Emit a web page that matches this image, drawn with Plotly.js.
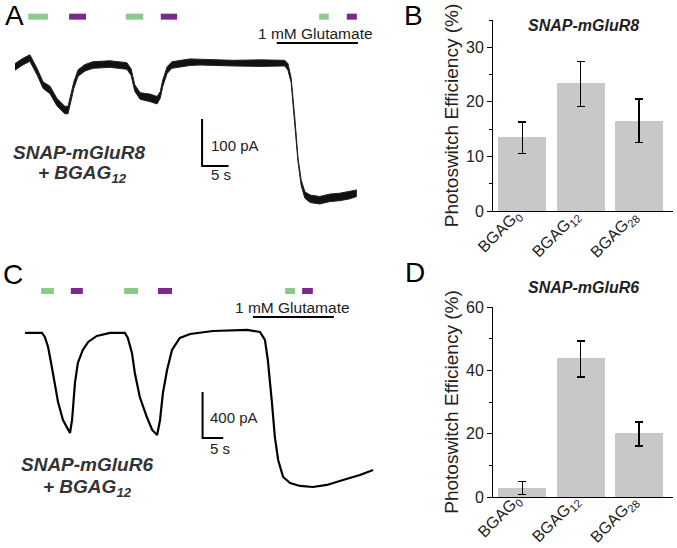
<!DOCTYPE html>
<html>
<head>
<meta charset="utf-8">
<script src="https://cdn.plot.ly/plotly-3.0.1.min.js"></script>
<style>
  html, body { margin: 0; padding: 0; background: #fff; }
  #fig { width: 677px; height: 548px; }
</style>
</head>
<body>
<div id="fig"></div>
<script>
// ---- panel A: SNAP-mGluR8 current trace (time in s, current in pA) ----
const tA = [0, 1.3, 2.8, 4.2, 5.3, 6.6, 7.9, 9.4, 10.0, 10.4, 11.1, 11.9, 13.2, 14.7, 17.9, 21.1, 21.9, 22.6, 23.6, 25.5, 26.8, 27.4, 27.9, 28.7, 29.6, 33.0, 34.9, 41.1, 46.2, 50.9, 51.5, 52.1, 52.8, 53.4, 54.0, 54.7, 55.7, 57.5, 59.4, 61.3, 63.2, 64.5];
const upperA = [3, 13, 22, -8, -36, -45, -71, -88, -88, -67, -36, -10, 1, 7, 9, 5, -8, -42, -59, -62, -67, -57, -31, -4, 7, 13, 12, 10, 11, 10, 3, -27, -113, -198, -245, -270, -277, -280, -275, -273, -269, -266];
const lowerA = [-11, -1, 8, -22, -50, -61, -87, -104, -104, -83, -50, -24, -13, -7, -5, -9, -22, -56, -73, -78, -83, -71, -45, -18, -7, -1, 0, -2, -3, -2, -11, -37, -121, -206, -257, -284, -293, -296, -291, -289, -285, -280];
const greenA = [[2.5, 6.2], [20.9, 24.2], [57.4, 59.2]];
const purpleA = [[10.2, 13.4], [27.5, 30.6], [62.6, 64.5]];
const gluA = [49.4, 64.7];

// ---- panel C: SNAP-mGluR6 current trace ----
const tC = [0, 4.1, 4.8, 5.6, 6.5, 7.3, 8.0, 9.2, 10.2, 10.9, 11.4, 12.1, 12.8, 14.0, 15.3, 17.4, 20.6, 24.2, 24.9, 25.9, 26.6, 27.8, 29.5, 30.8, 32.0, 32.7, 33.4, 34.4, 35.6, 37.5, 40.0, 45.5, 53.8, 56.9, 58.1, 58.8, 59.8, 60.5, 61.3, 62.5, 64.2, 66.6, 69.7, 73.1, 77.0, 81.1, 84.3];
const iC = [0, 0, -35, -122, -296, -470, -600, -757, -818, -870, -757, -435, -261, -148, -78, -26, 0, 0, -44, -174, -348, -557, -731, -844, -887, -757, -522, -322, -148, -44, -9, 17, 26, 9, -61, -235, -609, -905, -1105, -1253, -1305, -1331, -1340, -1322, -1279, -1235, -1192];
const greenC = [[3.9, 7.0], [24.0, 27.4], [63.0, 65.4]];
const purpleC = [[11.1, 14.0], [32.2, 35.6], [67.1, 69.7]];
const gluC = [55.2, 74.8];

// ---- panels B and D: photoswitch efficiency (%) ----
const compounds = ['BGAG<sub>0</sub>', 'BGAG<sub>12</sub>', 'BGAG<sub>28</sub>'];
const effR8 = [13.5, 23.4, 16.5];
const errR8Plus = [2.8, 4.0, 4.0];
const errR8Minus = [3.0, 4.3, 3.9];
const effR6 = [2.9, 43.8, 20.2];
const errR6Plus = [2.0, 5.5, 3.5];
const errR6Minus = [2.2, 5.9, 4.1];

const W = 677, H = 548;
const px = x => x / W;
const py = y => 1 - y / H;
const FONT = 'Liberation Sans, Arial, Helvetica, sans-serif';
const GREEN = '#8dc98b';
const PURPLE = '#7b2a8b';

// turn [[t0,t1],...] into one segmented line at level y
function segments(list, y) {
  const xs = [], ys = [];
  list.forEach(s => { xs.push(s[0], s[1], null); ys.push(y, y, null); });
  return { x: xs, y: ys };
}

function lightBars(list, y, color, xa, ya) {
  const s = segments(list, y);
  return { type: 'scatter', mode: 'lines', x: s.x, y: s.y, xaxis: xa, yaxis: ya,
    line: { color: color, width: 6 }, hoverinfo: 'skip' };
}

function blackLine(xs, ys, width, xa, ya) {
  return { type: 'scatter', mode: 'lines', x: xs, y: ys, xaxis: xa, yaxis: ya,
    line: { color: '#000', width: width }, hoverinfo: 'skip' };
}

const data = [
  // A trace: noise band
  { type: 'scatter', mode: 'lines', x: tA, y: upperA, xaxis: 'x', yaxis: 'y',
    line: { color: '#222', width: 1 }, hoverinfo: 'skip' },
  { type: 'scatter', mode: 'lines', x: tA, y: lowerA, xaxis: 'x', yaxis: 'y',
    fill: 'tonexty', fillcolor: '#111', line: { color: '#222', width: 1 }, hoverinfo: 'skip' },
  lightBars(greenA, 103, GREEN, 'x', 'y'),
  lightBars(purpleA, 103, PURPLE, 'x', 'y'),
  blackLine(gluA, [47, 47], 2, 'x', 'y'),
  // A scale bar: 100 pA / 5 s
  blackLine([35.3, 35.3, 40.3], [-115, -215, -215], 2, 'x', 'y'),

  // C trace
  blackLine(tC, iC, 2.2, 'x3', 'y3'),
  lightBars(greenC, 365, GREEN, 'x3', 'y3'),
  lightBars(purpleC, 365, PURPLE, 'x3', 'y3'),
  blackLine(gluC, [139, 139], 2, 'x3', 'y3'),
  // C scale bar: 400 pA / 5 s
  blackLine([43.0, 43.0, 48.0], [-513, -913, -913], 2, 'x3', 'y3'),

  // B bars
  { type: 'bar', x: [0, 1, 2], y: effR8, xaxis: 'x2', yaxis: 'y2', width: 0.82,
    marker: { color: '#c8c8c8' },
    error_y: { type: 'data', symmetric: false, array: errR8Plus, arrayminus: errR8Minus,
      color: '#000', thickness: 1.3, width: 4 } },
  // D bars
  { type: 'bar', x: [0, 1, 2], y: effR6, xaxis: 'x4', yaxis: 'y4', width: 0.82,
    marker: { color: '#c8c8c8' },
    error_y: { type: 'data', symmetric: false, array: errR6Plus, arrayminus: errR6Minus,
      color: '#000', thickness: 1.3, width: 4 } }
];

const hidden = { visible: false, showgrid: false, zeroline: false, fixedrange: true };

function barX(dom) {
  return {
    domain: dom, range: [-0.5, 2.58], tickvals: [0, 1, 2], showticklabels: false,
    ticks: '', showline: true, linecolor: '#000', linewidth: 1,
    showgrid: false, zeroline: false
  };
}
function barY(dom, range, dtick, minor) {
  return {
    domain: dom, range: range, dtick: dtick, ticks: 'outside', ticklen: 5, tickwidth: 1,
    tickcolor: '#000', showline: true, linecolor: '#000', linewidth: 1,
    showgrid: false, zeroline: false,
    minor: { dtick: minor, ticks: 'outside', ticklen: 3, tickcolor: '#000', showgrid: false },
    tickfont: { family: FONT, size: 16, color: '#222' },
    title: { text: 'Photoswitch Efficiency (%)', font: { family: FONT, size: 19, color: '#222' }, standoff: 2 }
  };
}

function txt(text, x, y, size, opts) {
  return Object.assign({ xref: 'paper', yref: 'paper', x: px(x), y: py(y), text: text,
    xanchor: 'center', yanchor: 'middle',
    showarrow: false, font: { family: FONT, size: size, color: '#222' } }, opts || {});
}

const annotations = [
  txt('A', 14, 16, 28, { font: { family: FONT, size: 28, color: '#000' } }),
  txt('B', 413, 16, 28, { font: { family: FONT, size: 28, color: '#000' } }),
  txt('C', 13, 274, 28, { font: { family: FONT, size: 28, color: '#000' } }),
  txt('D', 415, 273, 28, { font: { family: FONT, size: 28, color: '#000' } }),

  txt('1 mM Glutamate', 315, 33, 15.5),
  txt('100 pA', 209, 145, 15, { xanchor: 'left' }),
  txt('5 s', 209, 175, 15, { xanchor: 'left' }),
  txt('<b><i>SNAP-mGluR8</i></b>', 79, 152, 19, { font: { family: FONT, size: 19, color: '#333' } }),
  txt('<b><i>+ BGAG<sub>12</sub></i></b>', 82, 174, 19, { font: { family: FONT, size: 19, color: '#333' } }),

  txt('1 mM Glutamate', 292, 307, 15.5),
  txt('400 pA', 208, 417, 15, { xanchor: 'left' }),
  txt('5 s', 208, 448, 15, { xanchor: 'left' }),
  txt('<b><i>SNAP-mGluR6</i></b>', 87, 464, 19, { font: { family: FONT, size: 19, color: '#333' } }),
  txt('<b><i>+ BGAG<sub>12</sub></i></b>', 88, 488, 19, { font: { family: FONT, size: 19, color: '#333' } }),

  txt('<b><i>SNAP-mGluR8</i></b>', 583, 25, 16, { font: { family: FONT, size: 16, color: '#222' } }),
  txt('<b><i>SNAP-mGluR6</i></b>', 583, 287, 16, { font: { family: FONT, size: 16, color: '#222' } })
];

// rotated category labels under the bar charts
[['x2', 204], ['x4', 489]].forEach(([xa, top]) => {
  compounds.forEach((c, i) => {
    annotations.push({ xref: xa, yref: 'paper', x: i, y: py(top), xshift: 6,
      xanchor: 'right', yanchor: 'top', textangle: -45, text: c, showarrow: false,
      font: { family: FONT, size: 16, color: '#222' } });
  });
});

const layout = {
  width: W, height: H,
  margin: { l: 0, r: 0, t: 0, b: 0, pad: 0 },
  paper_bgcolor: '#fff', plot_bgcolor: 'rgba(0,0,0,0)',
  showlegend: false, bargap: 0,
  font: { family: FONT, color: '#222' },
  xaxis: Object.assign({}, hidden, { domain: [px(0), px(380)], range: [-2.83, 68.87] }),
  yaxis: Object.assign({}, hidden, { domain: [py(215), py(0)], range: [-319.5, 138.5] }),
  xaxis3: Object.assign({}, hidden, { domain: [px(0), px(380)], range: [-6.05, 85.96] }),
  yaxis3: Object.assign({}, hidden, { domain: [py(520), py(258)], range: [-1627, 652] }),
  xaxis2: Object.assign(barX([px(493), px(673)]), { anchor: 'y2' }),
  yaxis2: Object.assign(barY([py(211), py(20)], [0, 35], 10, 5), { anchor: 'x2' }),
  xaxis4: Object.assign(barX([px(493), px(673)]), { anchor: 'y4' }),
  yaxis4: Object.assign(barY([py(497), py(307)], [0, 60], 20, 10), { anchor: 'x4' }),
  annotations: annotations
};

Plotly.newPlot('fig', data, layout, { displayModeBar: false, staticPlot: true });
</script>
</body>
</html>
